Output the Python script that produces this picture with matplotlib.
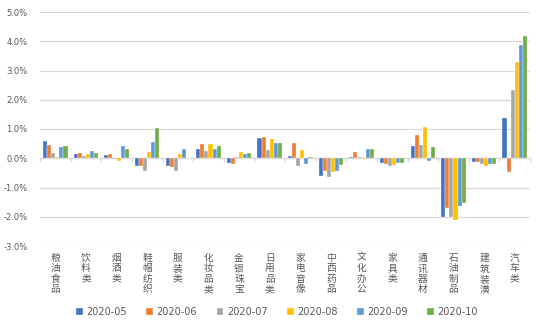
import matplotlib
matplotlib.use("Agg")
import matplotlib.pyplot as plt
import numpy as np
from matplotlib.ticker import FuncFormatter, MultipleLocator
from matplotlib.transforms import blended_transform_factory

plt.rcParams['font.family'] = ['Noto Sans CJK SC', 'DejaVu Sans']

categories = ["粮油食品", "饮料类", "烟酒类", "鞋帽纺织", "服装类", "化妆品类",
              "金银珠宝", "日用品类", "家电音像", "中西药品", "文化办公", "家具类",
              "通讯器材", "石油制品", "建筑装潢", "汽车类"]

months = ["2020-05", "2020-06", "2020-07", "2020-08", "2020-09", "2020-10"]

# Share of growth contribution (%) by category, one list per month
v_2020_05 = [0.59, 0.13, 0.10, -0.25, -0.25, 0.32, -0.16, 0.68, 0.07, -0.59, 0.05, -0.17, 0.42, -2.02, -0.13, 1.39]
v_2020_06 = [0.44, 0.17, 0.16, -0.26, -0.30, 0.49, -0.21, 0.73, 0.51, -0.42, 0.22, -0.20, 0.79, -1.70, -0.14, -0.48]
v_2020_07 = [0.19, 0.08, -0.03, -0.42, -0.42, 0.25, 0.04, 0.28, -0.28, -0.65, 0.03, -0.25, 0.45, -2.02, -0.20, 2.35]
v_2020_08 = [0.05, 0.15, -0.10, 0.20, 0.15, 0.49, 0.20, 0.65, 0.27, -0.46, -0.02, -0.22, 1.07, -2.10, -0.28, 3.29]
v_2020_09 = [0.39, 0.26, 0.42, 0.55, 0.33, 0.33, 0.13, 0.52, -0.21, -0.44, 0.30, -0.17, -0.08, -1.63, -0.20, 3.87]
v_2020_10 = [0.42, 0.19, 0.32, 1.03, 0.00, 0.41, 0.19, 0.52, 0.03, -0.24, 0.30, -0.16, 0.38, -1.54, -0.20, 4.17]

series = [v_2020_05, v_2020_06, v_2020_07, v_2020_08, v_2020_09, v_2020_10]
colors = ["#4472C4", "#ED7D31", "#A5A5A5", "#FFC000", "#5B9BD5", "#70AD47"]

fig = plt.figure(figsize=(5.54, 3.31), dpi=100)
ax = fig.add_axes([40 / 554, 1 - 246 / 331, 490 / 554, 234 / 331])

n = len(categories)
x = np.arange(n)
bw = 0.133
for i, (vals, c, lab) in enumerate(zip(series, colors, months)):
    ax.bar(x + (i - 2.5) * bw, vals, width=bw, color=c, label=lab,
           edgecolor="white", linewidth=0.25, zorder=3)

ax.set_xlim(-0.5, n - 0.5)
ax.set_ylim(-3.0, 5.0)
ax.yaxis.set_major_locator(MultipleLocator(1.0))
ax.yaxis.set_major_formatter(FuncFormatter(lambda v, p: f"{v:.1f}%"))
ax.grid(axis="y", color="#D9D9D9", linewidth=0.9, zorder=0)
ax.set_axisbelow(True)

for s in ["top", "right", "left"]:
    ax.spines[s].set_visible(False)
ax.spines["bottom"].set_position(("data", 0))
ax.spines["bottom"].set_color("#D9D9D9")
ax.spines["bottom"].set_linewidth(0.9)
ax.spines["bottom"].set_zorder(2)

ax.tick_params(axis="y", length=0, pad=9, labelsize=6.0, labelcolor="#595959")
for t in ax.get_yticklabels():
    t.set_family("DejaVu Sans")

ax.set_xticks(np.arange(n + 1) - 0.5, minor=True)
ax.set_xticks([])
ax.tick_params(axis="x", which="minor", length=3, color="#D9D9D9", width=0.9, direction="out")
ax.tick_params(axis="x", which="major", length=0, labelbottom=False)

trans = blended_transform_factory(ax.transData, ax.transAxes)
for xi, name in zip(x, categories):
    ax.annotate("\n".join(name), xy=(xi, 0), xycoords=trans,
                xytext=(0, -5), textcoords="offset points",
                ha="center", va="top", fontsize=7, color="#595959",
                linespacing=1.05)

leg = fig.legend(loc="center", bbox_to_anchor=(0.5, 1 - 312 / 331), ncol=6,
                 frameon=False, fontsize=7, handlelength=0.7, handleheight=0.7,
                 handletextpad=0.35, columnspacing=2.0, labelcolor="#595959")
for t in leg.get_texts():
    t.set_family("DejaVu Sans")

fig.savefig("out.png", dpi=100)
